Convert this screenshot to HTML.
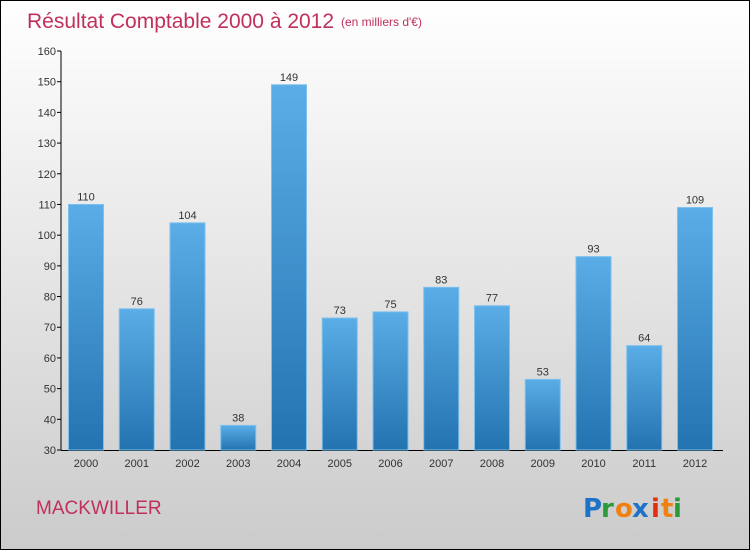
<!DOCTYPE html>
<html><head><meta charset="utf-8"><style>
body{margin:0}
#c{position:relative;width:748px;height:548px;border:1px solid #000;background:linear-gradient(#fff,#cbcbcb);font-family:"Liberation Sans",sans-serif;overflow:hidden}
</style></head><body>
<div id="c">
<svg width="748" height="548">
<defs><linearGradient id="g" x1="0" y1="0" x2="0" y2="1"><stop offset="0" stop-color="#5aade6"/><stop offset="1" stop-color="#2373b0"/></linearGradient></defs>
<text x="26" y="27" font-size="21" fill="#c0305a">Résultat Comptable 2000 à 2012</text>
<text x="340" y="25" font-size="12" fill="#c0305a">(en milliers d'€)</text>
<text x="35" y="513" font-size="19" fill="#c0305a">MACKWILLER</text>
<g font-size="26" font-weight="bold" font-family="DejaVu Sans, sans-serif">
<text x="582" y="516" fill="#1e73c8">P</text><text x="600" y="516" fill="#2a9a3a">r</text><text x="614" y="516" fill="#f08010">o</text><text x="631" y="516" fill="#1e73c8">x</text><text x="650" y="516" fill="#e03010">i</text><text x="660" y="516" fill="#f08010">t</text><text x="672" y="516" fill="#2a9a3a">i</text>
</g>
<g id="plot"></g>
</svg>
</div>
<script>
const years=["2000","2001","2002","2003","2004","2005","2006","2007","2008","2009","2010","2011","2012"];
const values=[110,76,104,38,149,73,75,83,77,53,93,64,109];
const ticks=[30,40,50,60,70,80,90,100,110,120,130,140,150,160];
const NS="http://www.w3.org/2000/svg";
const g=document.getElementById('plot');
const y0=449,y1=50,vmin=30,vmax=160;
function yS(v){return y0-(v-vmin)/(vmax-vmin)*(y0-y1);}
function xS(i){return 85+i*50.75;}
function mk(t,a,p){const e=document.createElementNS(NS,t);for(const k in a)e.setAttribute(k,a[k]);(p||g).appendChild(e);return e;}
const ax=mk('line',{x1:60,y1:y1,x2:60,y2:y0,stroke:'#000'});


const bx=mk('line',{x1:60,y1:y0+0.5,x2:722,y2:y0+0.5,stroke:'#000'});


ticks.forEach(t=>{
 const l=mk('line',{x1:56,x2:60,y1:yS(t),y2:yS(t),stroke:'#000'});
 
 
 const tx=mk('text',{x:55,y:yS(t)+4,'text-anchor':'end','font-size':11,fill:'#333'});
 tx.textContent=t;
 
 
});
values.forEach((v,i)=>{
 const x=xS(i);
 const r=mk('rect',{x:x-17.5,y:yS(v),width:35,height:y0-yS(v),fill:'url(#g)',stroke:'#7cc0ee','stroke-width':1});
 
 
 const t=mk('text',{x:x,y:yS(v)-4,'text-anchor':'middle','font-size':11,fill:'#333'});
 t.textContent=v;
 
 
 const xl=mk('text',{x:x,y:466,'text-anchor':'middle','font-size':11,fill:'#333'});
 xl.textContent=years[i];
 
 
});
</script>
</body></html>
